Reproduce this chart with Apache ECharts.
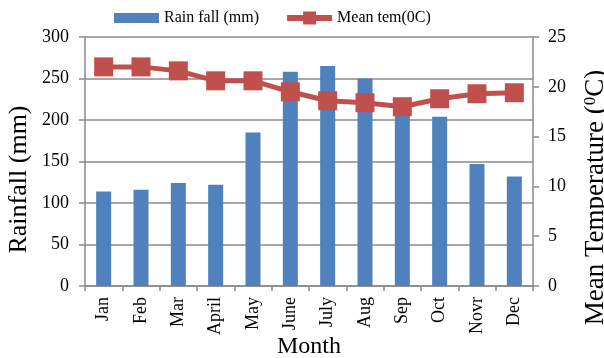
<!DOCTYPE html>
<html>
<head>
<meta charset="utf-8">
<script src="https://cdn.jsdelivr.net/npm/echarts@6/dist/echarts.min.js"></script>
<style>
  html, body { margin: 0; padding: 0; background: #fff; }
  #myChart { width: 604px; height: 358px; }
</style>
</head>
<body>
<div id="myChart"></div>
<script>
let myChart = echarts.init(document.getElementById('myChart'));

const months = ['Jan', 'Feb', 'Mar', 'April', 'May', 'June', 'July', 'Aug', 'Sep', 'Oct', 'Novr', 'Dec'];
const rainfall = [114, 116, 124, 122, 185, 258, 265, 250, 213, 204, 147, 132];
const meanTemp = [22.0, 22.0, 21.6, 20.6, 20.6, 19.5, 18.6, 18.4, 18.0, 18.8, 19.3, 19.4];

const font = 'Liberation Serif';
const gridColor = '#8a8a8a';

// legend icons, padded with tiny dots so both fit the same 45x13 box
const barIcon = 'path://M0,0L0.01,0L0.01,0.01Z M0,1.5L45,1.5L45,11.5L0,11.5Z M0,13L0.01,13L0.01,12.99Z';
const lineIcon = 'path://M0,3.5L45,3.5L45,9.5L0,9.5Z M16,0L29,0L29,13L16,13Z';

let myChartOption = {
  textStyle: { fontFamily: font, color: '#000' },
  legend: {
    left: 114,
    top: 10,
    padding: 0,
    itemWidth: 45,
    itemHeight: 13,
    itemGap: 28,
    textStyle: { fontFamily: font, fontSize: 16, color: '#000' },
    data: [
      { name: 'Rain fall (mm)', icon: barIcon },
      { name: 'Mean tem(0C)', icon: lineIcon },
    ],
  },
  grid: {
    left: 85,
    right: 71,
    top: 37,
    bottom: 72,
    outerBoundsMode: 'none',
  },
  xAxis: {
    type: 'category',
    data: months,
    name: 'Month',
    nameLocation: 'middle',
    nameGap: 49,
    nameMoveOverlap: false,
    nameTextStyle: { fontFamily: font, fontSize: 24, color: '#000' },
    axisLine: { lineStyle: { color: gridColor, width: 1.5 } },
    axisTick: { show: true, length: 5, interval: 0, lineStyle: { color: gridColor, width: 1.5 } },
    axisLabel: {
      interval: 0,
      rotate: 90,
      margin: 11,
      fontFamily: font,
      fontSize: 18,
      color: '#000',
    },
  },
  yAxis: [
    {
      type: 'value',
      min: 0,
      max: 300,
      interval: 50,
      name: 'Rainfall (mm)',
      nameLocation: 'middle',
      nameGap: 53,
      nameMoveOverlap: false,
      nameTextStyle: { fontFamily: font, fontSize: 26, color: '#000', padding: [0, 36, 0, 0] },
      axisLine: { show: true, lineStyle: { color: gridColor, width: 1.5 } },
      axisTick: { show: true, length: 6, lineStyle: { color: gridColor, width: 1.5 } },
      axisLabel: { margin: 16, fontFamily: font, fontSize: 18, color: '#000' },
      splitLine: { show: true, lineStyle: { color: gridColor, width: 1.5 } },
    },
    {
      type: 'value',
      min: 0,
      max: 25,
      interval: 5,
      position: 'right',
      name: 'Mean Temperature ({sup|0}C)',
      nameLocation: 'middle',
      nameGap: 49,
      nameMoveOverlap: false,
      nameTextStyle: {
        fontFamily: font,
        fontSize: 27,
        color: '#000',
        padding: [0, 72, 0, 0],
        rich: {
          sup: { fontFamily: font, fontSize: 17, color: '#000', verticalAlign: 'top', padding: [0, 0, 10, 0] },
        },
      },
      axisLine: { show: true, lineStyle: { color: gridColor, width: 1.5 } },
      axisTick: { show: true, length: 6, lineStyle: { color: gridColor, width: 1.5 } },
      axisLabel: { margin: 15, fontFamily: font, fontSize: 18, color: '#000' },
      splitLine: { show: false },
    },
  ],
  series: [
    {
      name: 'Rain fall (mm)',
      type: 'bar',
      data: rainfall,
      barWidth: 15,
      itemStyle: { color: '#4F81BD' },
      z: 2,
    },
    {
      name: 'Mean tem(0C)',
      type: 'line',
      yAxisIndex: 1,
      data: meanTemp,
      symbol: 'rect',
      symbolSize: 19,
      lineStyle: { color: '#C0504D', width: 5 },
      itemStyle: { color: '#C0504D' },
      z: 3,
    },
  ],
};

myChart.setOption(myChartOption);
</script>
</body>
</html>
